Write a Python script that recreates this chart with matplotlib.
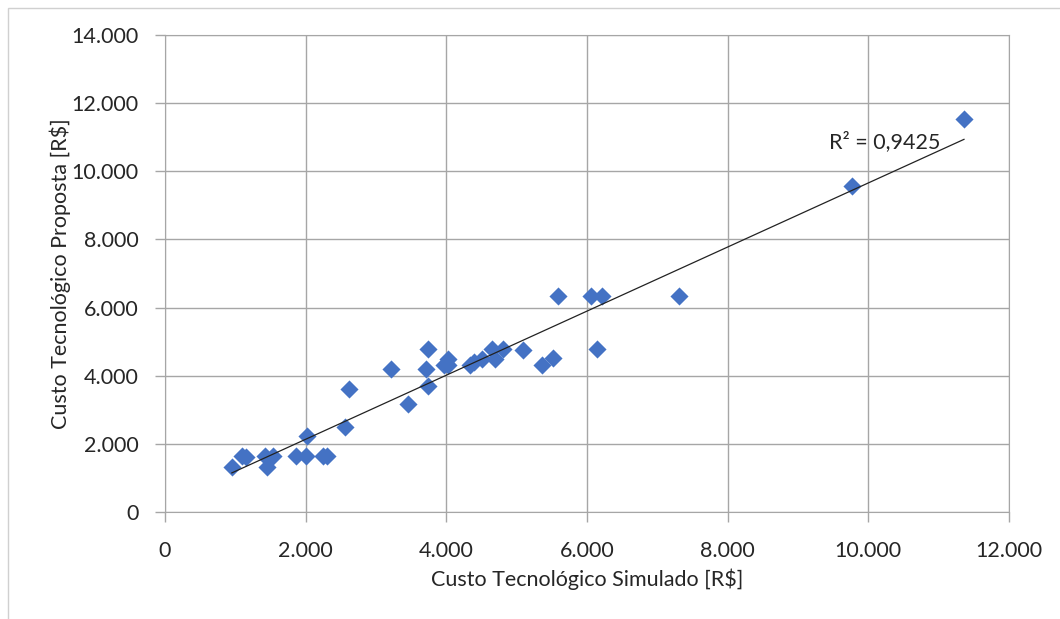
import numpy as np
import matplotlib.pyplot as plt
from matplotlib.ticker import FuncFormatter
from matplotlib.patches import Rectangle

# Data (R$)
simulado = [950, 1100, 1150, 1420, 1540, 1450, 1860, 2000, 2250, 2300,
            2020, 2560, 2610, 3460, 3210, 3740, 3710, 3740, 3960, 4030,
            4020, 4340, 4400, 4500, 4650, 4690, 4810, 5095, 5360, 5520,
            5590, 6050, 6210, 6140, 7310, 9770, 11360]
proposta = [1330, 1650, 1620, 1650, 1650, 1310, 1650, 1650, 1650, 1650,
            2230, 2500, 3610, 3170, 4200, 4780, 4200, 3700, 4310, 4500,
            4300, 4310, 4400, 4500, 4780, 4480, 4780, 4760, 4310, 4510,
            6340, 6340, 6340, 4780, 6340, 9570, 11540]
r2_label = "R² = 0,9425"

x = np.array(simulado)
y = np.array(proposta)

plt.rcParams['font.family'] = ['Lato', 'DejaVu Sans']

fig = plt.figure(figsize=(10.6, 6.19), dpi=100)
ax = fig.add_axes([165/1060, 1 - 512/619, 844/1060, 477/619])

# outer frame of the chart object
fig.patches.append(Rectangle((8/1060, -0.05), 1.2, 1 - 8/619 + 0.05,
                             transform=fig.transFigure, fill=False,
                             edgecolor='#D0D0D0', linewidth=1))

ax.scatter(x, y, marker='D', s=85, color='#4472C4', zorder=3, linewidths=0)

# linear trend line
a, b = np.polyfit(x, y, 1)
xs = np.array([x.min(), x.max()])
ax.plot(xs, a * xs + b, color='#222222', linewidth=0.9, zorder=4)
ax.text(9440, 10880, r2_label, fontsize=15.5, color='#262626', va='center', zorder=5)

ax.set_xlim(0, 12000)
ax.set_ylim(0, 14000)
ax.set_xticks(np.arange(0, 12001, 2000))
ax.set_yticks(np.arange(0, 14001, 2000))
fmt = FuncFormatter(lambda v, p: f"{int(v):,}".replace(",", "."))
ax.xaxis.set_major_formatter(fmt)
ax.yaxis.set_major_formatter(fmt)

ax.grid(True, color='#A6A6A6', linewidth=1)
ax.set_axisbelow(True)
for s in ax.spines.values():
    s.set_color('#A6A6A6')
ax.tick_params(colors='#A6A6A6', labelcolor='#262626', labelsize=15.5, length=7, width=1)
ax.tick_params(axis='y', pad=12)
ax.tick_params(axis='x', pad=14)

ax.set_xlabel("Custo Tecnológico Simulado [R$]", fontsize=15.5, color='#262626', labelpad=5)
ax.set_ylabel("Custo Tecnológico Proposta [R$]", fontsize=15.5, color='#262626', labelpad=0)

fig.savefig("out.png", dpi=100)
